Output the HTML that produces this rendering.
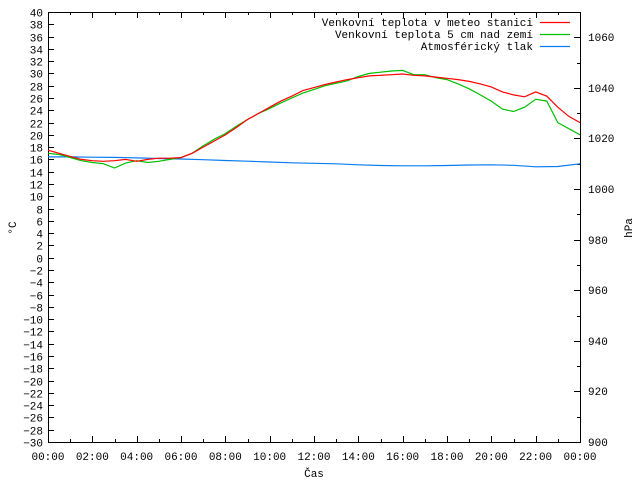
<!DOCTYPE html>
<html><head><meta charset="utf-8"><style>
body{margin:0;background:#fff}
svg text{font-family:"Liberation Mono",monospace;font-size:11px;fill:#000}
</style></head><body>
<svg id="c" width="640" height="480"></svg>
<script>
const hours=[];for(let i=0;i<=48;i++)hours.push(i*0.5);
const tempStation=[17.5,17,16.5,16,15.8,15.7,15.8,16,15.7,16,16.2,16.2,16.3,17,18,19,20,21.2,22.5,23.5,24.5,25.5,26.3,27.2,27.7,28.2,28.6,29,29.3,29.6,29.7,29.8,29.9,29.7,29.6,29.4,29.2,29,28.7,28.3,27.8,27,26.5,26.2,27,26.3,24.5,23,22];
const temp5cm=[17,16.8,16.3,15.8,15.5,15.3,14.6,15.4,15.8,15.5,15.7,16,16.3,17,18.2,19.3,20.2,21.4,22.5,23.5,24.3,25.2,26,26.8,27.4,28,28.4,28.8,29.5,30,30.2,30.4,30.5,29.8,29.8,29.3,29,28.3,27.5,26.5,25.5,24.2,23.8,24.5,25.8,25.5,22,21,20];
const pressHours=[];for(let i=0;i<=24;i++)pressHours.push(i);
const pressure=[1012.7,1012.7,1012.6,1012.5,1012.3,1012.1,1011.9,1011.6,1011.3,1011.0,1010.7,1010.4,1010.2,1010.0,1009.6,1009.3,1009.2,1009.2,1009.3,1009.5,1009.6,1009.4,1008.8,1008.9,1010.0];
const xLabels=["00:00","02:00","04:00","06:00","08:00","10:00","12:00","14:00","16:00","18:00","20:00","22:00","00:00"];
const yTicks=[];for(let v=-30;v<=40;v+=2)yTicks.push(v);
const y2Ticks=[900,920,940,960,980,1000,1020,1040,1060];

const L=48,R=580,T=12,B=442;
const X=h=>L+(R-L)*h/24;
const Y=v=>B-(B-T)*(v+30)/70;
const Y2=p=>B-(B-T)*(p-900)/170;
const svg=document.getElementById('c');const NS='http://www.w3.org/2000/svg';
function mk(t,a,p){const e=document.createElementNS(NS,t);for(const k in a)e.setAttribute(k,a[k]);(p||svg).appendChild(e);return e;}
function txt(x,y,s,anchor){const e=mk('text',{x:x,y:y,'text-anchor':anchor||'start'});e.textContent=s;return e;}
let e;
e=mk('rect',{x:L+.5,y:T+.5,width:R-L,height:B-T,fill:'none',stroke:'#000','stroke-width':1});

yTicks.forEach(v=>{const y=Math.round(Y(v))+.5;
 mk('line',{x1:L,x2:L+6,y1:y,y2:y,stroke:'#000'});
 e=txt(L-5,y+4,String(v).replace('-','−'),'end');
 });
for(let p=900;p<=1070;p+=10){const y=Math.round(Y2(p))+.5;mk('line',{x1:R-(p%20?3:6),x2:R,y1:y,y2:y,stroke:'#000'});}
y2Ticks.forEach(p=>{e=txt(R+8,Math.round(Y2(p))+4,String(p));
 });
for(let h=0;h<=24;h++){const x=Math.round(X(h))+.5;const len=h%2?3:6;
 mk('line',{x1:x,x2:x,y1:B,y2:B-len,stroke:'#000'});mk('line',{x1:x,x2:x,y1:T,y2:T+len,stroke:'#000'});}
xLabels.forEach((s,i)=>{e=txt(X(i*2),B+18,s,'middle');
 });
e=txt(314,477,'Čas','middle');
e=txt(0,0,'°C','middle');e.setAttribute('transform','translate(16,228) rotate(-90)');

e=txt(0,0,'hPa','middle');e.setAttribute('transform','translate(632,228) rotate(-90)');

function line(xs,vs,fy,col,name){const pts=xs.map((h,i)=>X(h).toFixed(1)+','+fy(vs[i]).toFixed(1)).join(' ');
 const l=mk('polyline',{points:pts,fill:'none',stroke:col,'stroke-width':1.2});
 }
line(pressHours,pressure,Y2,'#0a7cf0','series-pressure');
line(hours,temp5cm,Y,'#00c000','series-temp-5cm');
line(hours,tempStation,Y,'#ff0000','series-temp-station');
const leg=[['Venkovní teplota v meteo stanici','#ff0000'],['Venkovní teplota 5 cm nad zemí','#00c000'],['Atmosférický tlak','#0a7cf0']];
leg.forEach((d,i)=>{const y=22+i*12;
 e=txt(533,y+4,d[0],'end');
 mk('line',{x1:540,x2:570,y1:y+.5,y2:y+.5,stroke:d[1],'stroke-width':1.2});});
</script>
</body></html>
